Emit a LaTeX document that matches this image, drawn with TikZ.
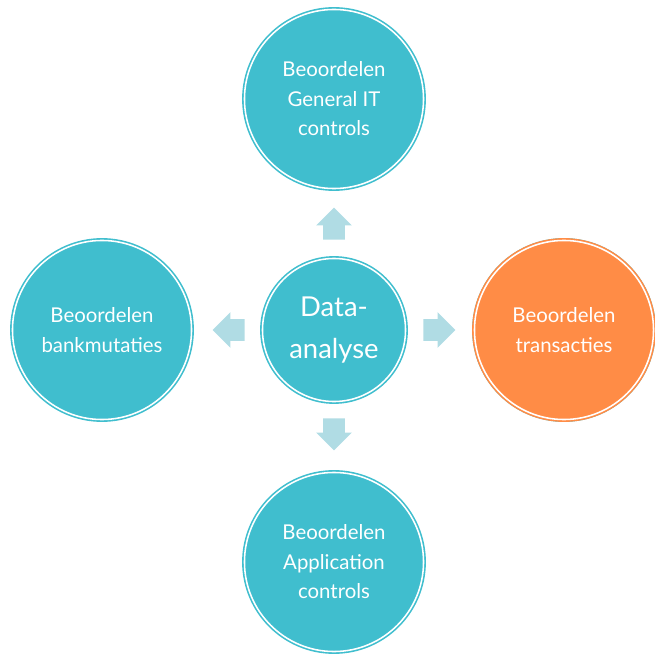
\documentclass[tikz,border=0pt]{standalone}
\usepackage{fontspec}
\setmainfont{Lato}
\usepackage{xcolor}
\usepackage{tikz}
\usetikzlibrary{shapes}
\usetikzlibrary{shapes.arrows}
\definecolor{teal1}{HTML}{40BECE}
\definecolor{oranje}{HTML}{FF8C46}
\definecolor{pijl}{HTML}{B0DCE4}
\tikzset{>=latex}
\tikzstyle{bol} = [circle, fill=teal1, draw=white, line width=1.1pt, preaction={draw=teal1, line width=3.4pt}, minimum size=4.475cm, inner sep=0, text=white, align=center, font=\fontsize{14.5}{21}\selectfont]
\tikzstyle{kern} = [bol, minimum size=3.575cm, font=\fontsize{19.5}{30}\selectfont]
\tikzstyle{pijlblok} = [single arrow, fill=pijl, draw=none, inner xsep=0, inner ysep=0.2625cm, text height=0, text depth=0, minimum height=0.8cm, minimum width=0.875cm, single arrow head extend=0.175cm]

\begin{document}
\begin{tikzpicture}[x=0.025cm, y=-0.025cm]
\useasboundingbox (0,0) rectangle (654,655);
\node [kern] (DA) at (334, 330) {Data-\\analyse};
\node [bol] (IT) at (334, 99) {Beoordelen\\General IT\\controls};
\node [bol] (BM) at (102, 330) {Beoordelen\\bankmutaties};
\node [bol, fill=oranje, preaction={draw=oranje, line width=3.4pt}] (TR) at (564, 330) {Beoordelen\\transacties};
\node [bol] (AC) at (334, 562) {Beoordelen\\Application\\controls};
%\draw [->] (DA) to (IT);
\node [pijlblok, rotate=90] (P1) at (334, 229) {};
\node [pijlblok, rotate=180] (P2) at (234, 330) {};
\node [pijlblok] (P3) at (434, 330) {};
\node [pijlblok, rotate=-90] (P4) at (334, 429) {};
\end{tikzpicture}
\end{document}
